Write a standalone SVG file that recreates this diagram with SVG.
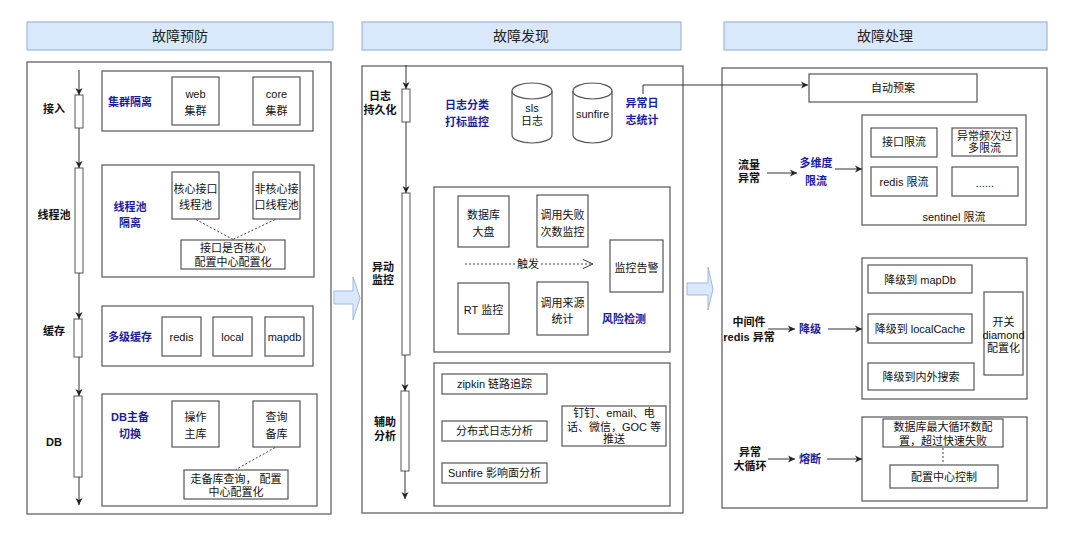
<svg xmlns="http://www.w3.org/2000/svg" width="1080" height="537" viewBox="0 0 1080 537">
<defs>
<style>
text{font-family:"Liberation Sans","Noto Sans CJK SC",sans-serif;font-size:11px;fill:#111;text-anchor:middle;dominant-baseline:central}
.h{font-size:14px;fill:#222}
.b{font-weight:bold}
.bl{font-weight:bold;fill:#1c1ca0}
.hdr{fill:#dae8fc;stroke:#9fb7de;stroke-width:1.2}
.panel{fill:#fff;stroke:#555;stroke-width:1.2}
.box{fill:#fff;stroke:#555;stroke-width:1.2}
.bar{fill:#fff;stroke:#555;stroke-width:1}
.ln{fill:none;stroke:#333;stroke-width:1}
.dash{fill:none;stroke:#444;stroke-width:1;stroke-dasharray:2 2}
.blk{fill:#dae8fc;stroke:#9fb7de;stroke-width:1}
</style>
<marker id="ah" markerWidth="8" markerHeight="8" refX="7" refY="4" orient="auto" markerUnits="userSpaceOnUse">
<path d="M0,0.5 L7,4 L0,7.5 L2,4 z" fill="#222"/>
</marker>
<marker id="oa" markerWidth="12" markerHeight="10" refX="11" refY="5" orient="auto" markerUnits="userSpaceOnUse">
<path d="M1,0.5 L11,5 L1,9.5" fill="none" stroke="#444" stroke-width="1"/>
</marker>
</defs>
<rect width="1080" height="537" fill="#fff"/>

<!-- headers -->
<g id="hdr1"><rect class="hdr" x="27" y="22" width="306" height="28"/><text class="h" x="180" y="36">故障预防</text></g>
<g id="hdr2"><rect class="hdr" x="362" y="22" width="319" height="28"/><text class="h" x="521" y="36">故障发现</text></g>
<g id="hdr3"><rect class="hdr" x="724" y="22" width="323" height="28"/><text class="h" x="885" y="36">故障处理</text></g>

<!-- panels -->
<g id="panel1"><rect class="panel" x="27" y="62" width="304" height="452"/></g>
<g id="panel2"><rect class="panel" x="362" y="66" width="321" height="447"/></g>
<g id="panel3"><rect class="panel" x="722" y="68" width="325" height="440"/></g>

<!-- block arrows -->
<g id="blockarrow1"><path class="blk" d="M334,291 H353 V277 L360,298 L353,320 V304 H334 Z"/></g>
<g id="blockarrow2"><path class="blk" d="M687,283 H708 V267 L713,289 L708,310 V295 H687 Z"/></g>

<!-- left panel nodes -->
<g id="bar-jieru"><rect class="bar" x="75" y="95" width="8" height="33"/><text class="b" x="54" y="109">接入</text></g>
<g id="bar-xiancheng"><rect class="bar" x="75" y="168" width="8" height="105"/><text class="b" x="54" y="215">线程池</text></g>
<g id="bar-huancun"><rect class="bar" x="74" y="319" width="8" height="38"/><text class="b" x="54" y="331">缓存</text></g>
<g id="bar-db"><rect class="bar" x="74" y="396" width="8" height="81"/><text class="b" x="54" y="442">DB</text></g>

<g id="grp-cluster"><rect class="box" x="102" y="71" width="211" height="60"/><text class="bl" x="130" y="102">集群隔离</text></g>
<g id="web"><rect class="box" x="172" y="77" width="47" height="48"/><text x="195.5" y="94">web</text><text x="195.5" y="111">集群</text></g>
<g id="core"><rect class="box" x="253" y="77" width="47" height="48"/><text x="276.5" y="94">core</text><text x="276.5" y="111">集群</text></g>

<g id="grp-pool"><rect class="box" x="102" y="165" width="212" height="112"/><text class="bl" x="130" y="207">线程池</text><text class="bl" x="130" y="223">隔离</text></g>
<g id="core-pool"><rect class="box" x="172" y="172" width="47" height="47"/><text x="195.5" y="189">核心接口</text><text x="195.5" y="205">线程池</text></g>
<g id="noncore-pool"><rect class="box" x="253" y="172" width="47" height="47"/><text x="276.5" y="189">非核心接</text><text x="276.5" y="205">口线程池</text></g>
<g id="pool-config"><rect class="box" x="181" y="240" width="104" height="29"/><text x="233" y="248">接口是否核心</text><text x="233" y="262">配置中心配置化</text></g>

<g id="grp-cache"><rect class="box" x="102" y="306" width="211" height="60"/><text class="bl" x="130" y="337">多级缓存</text></g>
<g id="redis"><rect class="box" x="162" y="317" width="39" height="39"/><text x="181.5" y="337">redis</text></g>
<g id="local"><rect class="box" x="213" y="317" width="39" height="39"/><text x="232.5" y="337">local</text></g>
<g id="mapdb"><rect class="box" x="265" y="317" width="39" height="39"/><text x="284.5" y="337">mapdb</text></g>

<g id="grp-db"><rect class="box" x="102" y="394" width="215" height="112"/><text class="bl" x="130" y="417">DB主备</text><text class="bl" x="130" y="434">切换</text></g>
<g id="db-main"><rect class="box" x="172" y="401" width="47" height="46"/><text x="195.5" y="417">操作</text><text x="195.5" y="434">主库</text></g>
<g id="db-backup"><rect class="box" x="253" y="401" width="47" height="46"/><text x="276.5" y="417">查询</text><text x="276.5" y="434">备库</text></g>
<g id="db-config"><rect class="box" x="184" y="470" width="104" height="29"/><text x="236" y="479">走备库查询，  配置</text><text x="236" y="492">中心配置化</text></g>

<!-- middle panel nodes -->
<g id="bar-log"><rect class="bar" x="402" y="89" width="8" height="33"/><text class="b" x="380" y="96">日志</text><text class="b" x="380" y="110">持久化</text></g>
<g id="bar-monitor"><rect class="bar" x="402" y="193" width="8" height="162"/><text class="b" x="383" y="267">异动</text><text class="b" x="383" y="280">监控</text></g>
<g id="bar-assist"><rect class="bar" x="401" y="391" width="8" height="80"/><text class="b" x="385" y="422">辅助</text><text class="b" x="385" y="436">分析</text></g>

<g id="log-classify"><text class="bl" x="467" y="105">日志分类</text><text class="bl" x="467" y="122">打标监控</text></g>
<g id="sls"><path class="box" d="M512,91 a20,8 0 0,1 40,0 v44 a20,8 0 0,1 -40,0 z"/><path class="ln" style="stroke:#555;stroke-width:1.2" d="M512,91 a20,8 0 0,0 40,0"/><text x="532" y="108">sls</text><text x="532" y="121">日志</text></g>
<g id="sunfire"><path class="box" d="M573,91 a19.5,8 0 0,1 39,0 v44 a19.5,8 0 0,1 -39,0 z"/><path class="ln" style="stroke:#555;stroke-width:1.2" d="M573,91 a19.5,8 0 0,0 39,0"/><text x="592.5" y="114">sunfire</text></g>
<g id="err-log"><text class="bl" x="642" y="103">异常日</text><text class="bl" x="642" y="120">志统计</text></g>

<g id="grp-risk"><rect class="box" x="434" y="187" width="236" height="165"/><text class="bl" x="624" y="319">风险检测</text></g>
<g id="db-dash"><rect class="box" x="458" y="196" width="51" height="51"/><text x="483.5" y="215">数据库</text><text x="483.5" y="232">大盘</text></g>
<g id="fail-mon"><rect class="box" x="537" y="195" width="51" height="52"/><text x="562.5" y="215">调用失败</text><text x="562.5" y="232">次数监控</text></g>
<g id="alarm"><rect class="box" x="610" y="240" width="53" height="52"/><text x="636.5" y="268">监控告警</text></g>
<g id="rt"><rect class="box" x="458" y="283" width="51" height="51"/><text x="483.5" y="310">RT 监控</text></g>
<g id="src"><rect class="box" x="537" y="282" width="51" height="53"/><text x="562.5" y="303">调用来源</text><text x="562.5" y="319">统计</text></g>
<g id="trigger-label"><text x="528" y="264">触发</text></g>

<g id="grp-assist"><rect class="box" x="434" y="363" width="236" height="143"/></g>
<g id="zipkin"><rect class="box" x="442" y="374" width="105" height="20"/><text x="494.5" y="384">zipkin 链路追踪</text></g>
<g id="dist-log"><rect class="box" x="442" y="421" width="105" height="20"/><text x="494.5" y="431">分布式日志分析</text></g>
<g id="sunfire-impact"><rect class="box" x="442" y="463" width="105" height="20"/><text x="494.5" y="473">Sunfire 影响面分析</text></g>
<g id="push"><rect class="box" x="562" y="406" width="104" height="40"/><text x="614" y="413">钉钉、email、电</text><text x="614" y="427">话、微信，GOC 等</text><text x="614" y="439">推送</text></g>

<!-- right panel nodes -->
<g id="auto-plan"><rect class="box" x="809" y="74" width="168" height="28"/><text x="893" y="88">自动预案</text></g>

<g id="traffic"><text class="b" x="749" y="165">流量</text><text class="b" x="749" y="178">异常</text></g>
<g id="multi-limit"><text class="bl" x="816" y="163">多维度</text><text class="bl" x="816" y="181">限流</text></g>
<g id="sentinel"><rect class="box" x="862" y="115" width="164" height="110"/><text x="954" y="217">sentinel 限流</text></g>
<g id="api-limit"><rect class="box" x="871" y="128" width="66" height="29"/><text x="904" y="142">接口限流</text></g>
<g id="freq-limit"><rect class="box" x="952" y="128" width="65" height="28"/><text x="984.5" y="136">异常频次过</text><text x="984.5" y="148">多限流</text></g>
<g id="redis-limit"><rect class="box" x="871" y="167" width="66" height="29"/><text x="904" y="182">redis 限流</text></g>
<g id="more-limit"><rect class="box" x="952" y="167" width="66" height="29"/><text x="985" y="183">......</text></g>

<g id="middleware"><text class="b" x="749" y="322">中间件</text><text class="b" x="749" y="337">redis 异常</text></g>
<g id="degrade"><text class="bl" x="810" y="329">降级</text></g>
<g id="grp-degrade"><rect class="box" x="862" y="258" width="165" height="141"/></g>
<g id="deg-mapdb"><rect class="box" x="868" y="265" width="104" height="28"/><text x="920" y="280">降级到 mapDb</text></g>
<g id="deg-local"><rect class="box" x="868" y="314" width="104" height="29"/><text x="920" y="329">降级到 localCache</text></g>
<g id="deg-search"><rect class="box" x="868" y="363" width="106" height="27"/><text x="921" y="377">降级到内外搜索</text></g>
<g id="switch"><rect class="box" x="984" y="292" width="39" height="83"/><text x="1003.5" y="322">开关</text><text x="1003.5" y="335">diamond</text><text x="1003.5" y="348">配置化</text></g>

<g id="bigloop"><text class="b" x="750" y="452">异常</text><text class="b" x="750" y="466">大循环</text></g>
<g id="fuse"><text class="bl" x="810" y="459">熔断</text></g>
<g id="grp-fuse"><rect class="box" x="862" y="417" width="165" height="84"/></g>
<g id="loop-config"><rect class="box" x="883" y="419" width="120" height="28"/><text x="943" y="427">数据库最大循环数配</text><text x="943" y="441">置，超过快速失败</text></g>
<g id="config-center"><rect class="box" x="890" y="465" width="108" height="23"/><text x="944" y="477">配置中心控制</text></g>

<!-- connectors -->
<g id="connectors">
<line class="ln" x1="79" y1="70" x2="79" y2="95" marker-end="url(#ah)"/>
<line class="ln" x1="79" y1="128" x2="79" y2="168" marker-end="url(#ah)"/>
<line class="ln" x1="79" y1="273" x2="79" y2="319" marker-end="url(#ah)"/>
<line class="ln" x1="79" y1="357" x2="79" y2="396" marker-end="url(#ah)"/>
<line class="ln" x1="79" y1="477" x2="79" y2="505" marker-end="url(#ah)"/>
<line class="dash" x1="196" y1="219.6" x2="233" y2="239.4"/>
<line class="dash" x1="275" y1="219.6" x2="233" y2="239.4"/>
<line class="dash" x1="275" y1="447.6" x2="236" y2="469.4"/>

<line class="ln" x1="406" y1="65" x2="406" y2="89" marker-end="url(#ah)"/>
<line class="ln" x1="406" y1="122" x2="406" y2="193" marker-end="url(#ah)"/>
<line class="ln" x1="405" y1="355" x2="405" y2="391" marker-end="url(#ah)"/>
<line class="ln" x1="405" y1="471" x2="405" y2="499" marker-end="url(#ah)"/>
<path class="ln" d="M643,94 V85 H808" marker-end="url(#ah)"/>
<line class="dash" x1="465" y1="264" x2="515" y2="264"/>
<line class="dash" x1="541" y1="264" x2="593" y2="264" marker-end="url(#oa)"/>

<line class="ln" x1="767" y1="173" x2="797" y2="173" marker-end="url(#ah)"/>
<line class="ln" x1="835" y1="169" x2="862" y2="169" marker-end="url(#ah)"/>
<line class="ln" x1="768" y1="329" x2="795" y2="329" marker-end="url(#ah)"/>
<line class="ln" x1="828" y1="329" x2="862" y2="329" marker-end="url(#ah)"/>
<line class="ln" x1="768" y1="459" x2="795" y2="459" marker-end="url(#ah)"/>
<line class="ln" x1="827" y1="459" x2="862" y2="459" marker-end="url(#ah)"/>
<line class="dash" x1="943" y1="448" x2="943" y2="464"/>
</g>
</svg>
